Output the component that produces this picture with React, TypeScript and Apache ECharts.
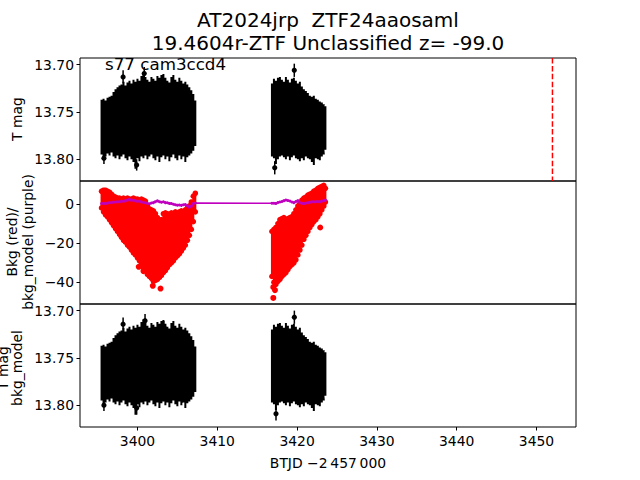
import React, { useEffect, useRef } from "react";
import * as echarts from "echarts";

// ---------- axes ----------
const xTicks = [3400, 3410, 3420, 3430, 3440, 3450];
const magTicks = [13.7, 13.75, 13.8];
const bkgTicks = [0, -20, -40];
const xRange = [3392.8, 3454.95];
const magRange = [13.693, 13.823];
const bkgRange = [-51.1, 11.75];

// ---------- texts ----------
const titleLine1 = "AT2024jrp  ZTF24aaosaml";
const titleLine2 = "19.4604r-ZTF Unclassified z= -99.0";
const sectorText = "s77 cam3ccd4";
const xLabel = "BTJD \u22122\u2009457\u2009000";

// ---------- time bins (BTJD - 2457000) ----------
const seg1Time = [
  3395.5, 3395.75, 3396, 3396.25, 3396.5, 3396.75, 3397, 3397.25, 3397.5, 3397.75,
  3398, 3398.25, 3398.5, 3398.75, 3399, 3399.25, 3399.5, 3399.75, 3400, 3400.25,
  3400.5, 3400.75, 3401, 3401.25, 3401.5, 3401.75, 3402, 3402.25, 3402.5, 3402.75,
  3403, 3403.25, 3403.5, 3403.75, 3404, 3404.25, 3404.5, 3404.75, 3405, 3405.25,
  3405.5, 3405.75, 3406, 3406.25, 3406.5, 3406.75, 3407, 3407.25,
];
const seg2Time = [
  3416.85, 3417.1, 3417.35, 3417.6, 3417.85, 3418.1, 3418.35, 3418.6, 3418.85, 3419.1,
  3419.35, 3419.6, 3419.85, 3420.1, 3420.35, 3420.6, 3420.85, 3421.1, 3421.35, 3421.6,
  3421.85, 3422.1, 3422.35, 3422.6, 3422.85, 3423.1, 3423.35, 3423.55,
];

// ---------- T mag envelope (incl. error bars): brightest / faintest per bin ----------
const seg1MagBright = [
  13.737, 13.736, 13.738, 13.735, 13.734, 13.733, 13.729, 13.726, 13.724, 13.722,
  13.721, 13.718, 13.722, 13.719, 13.717, 13.72, 13.716, 13.718, 13.715, 13.717,
  13.712, 13.709, 13.713, 13.716, 13.718, 13.713, 13.715, 13.717, 13.712, 13.714,
  13.711, 13.71, 13.714, 13.717, 13.719, 13.713, 13.711, 13.716, 13.718, 13.714,
  13.717, 13.72, 13.718, 13.721, 13.724, 13.727, 13.731, 13.738,
];
const seg1MagFaint = [
  13.795, 13.799, 13.797, 13.794, 13.796, 13.793, 13.797, 13.799, 13.796, 13.8,
  13.797, 13.795, 13.799, 13.801, 13.797, 13.8, 13.803, 13.81, 13.799, 13.802,
  13.797, 13.799, 13.796, 13.8, 13.797, 13.795, 13.799, 13.801, 13.797, 13.803,
  13.798, 13.796, 13.8, 13.797, 13.802, 13.798, 13.795, 13.799, 13.801, 13.796,
  13.8, 13.797, 13.803, 13.798, 13.796, 13.794, 13.791, 13.786,
];
const seg2MagBright = [
  13.72, 13.715, 13.717, 13.714, 13.713, 13.716, 13.718, 13.713, 13.716, 13.719,
  13.715, 13.714, 13.717, 13.72, 13.718, 13.723, 13.726, 13.728, 13.73, 13.733,
  13.734, 13.733, 13.736, 13.737, 13.739, 13.74, 13.742, 13.744,
];
const seg2MagFaint = [
  13.797, 13.799, 13.805, 13.8, 13.797, 13.796, 13.798, 13.8, 13.797, 13.801,
  13.798, 13.796, 13.799, 13.8, 13.802, 13.799, 13.801, 13.797, 13.799, 13.8,
  13.803, 13.806, 13.799, 13.8, 13.801, 13.797, 13.795, 13.79,
];

// isolated points with error bars (top panel)
const magOutTime = [3398.2, 3400.85, 3395.8, 3399.9, 3419.65, 3417.2];
const magOutValue = [13.713, 13.7095, 13.799, 13.806, 13.706, 13.809];
const magOutErr = [0.007, 0.007, 0.006, 0.006, 0.007, 0.007];

// isolated points with error bars (bottom panel, T mag - bkg_model)
const subOutTime = [3398.2, 3400.95, 3403.3, 3395.8, 3399.9, 3405.6, 3419.66, 3417.36];
const subOutValue = [13.7144, 13.7106, 13.717, 13.8, 13.803, 13.791, 13.707, 13.809];
const subOutErr = [0.007, 0.007, 0.006, 0.006, 0.007, 0.006, 0.007, 0.007];

// ---------- background (red) envelope ----------
const seg1BkgHigh = [
  6.5, 7, 7, 6.5, 6, 5, 4, 3.5, 3, 3,
  2.5, 3, 2.5, 3, 2.5, 2.5, 3, 2.5, 2.5, 2,
  2.5, 2, 1.5, -1, -2.5, -3, -3.5, -5, -7, -9.5,
  -8, -5, -4.5, -5, -5.5, -4.5, -5, -4, -5, -4,
  -3.5, -4, -3, -2, -1, 1, 4, 5.5,
];
const seg1BkgLow = [
  -2, -4, -5.5, -6.5, -8, -9.5, -11, -12.5, -14, -15.5,
  -17, -18.5, -19.5, -21, -22, -23.5, -25, -26, -27.5, -29,
  -31, -32.5, -34, -36, -37, -38, -39.5, -39, -38.5, -37.5,
  -36.5, -35, -34, -32.5, -31, -30, -29, -27.5, -26.5, -25.5,
  -24, -22.5, -21, -18.5, -16, -13, -9, -4,
];
const seg2BkgHigh = [
  -14, -13, -12, -10, -8, -7.5, -7, -8, -7.5, -7,
  -6.5, -5, -3, -1, 0.5, 2, 3, 3.5, 4.5, 5,
  5.5, 6.5, 7, 8, 8.5, 9, 9.5, 8,
];
const seg2BkgLow = [
  -37, -40, -41, -39.5, -38.5, -37, -36, -35, -33.5, -32,
  -31, -30, -28.5, -26, -23.5, -21, -18, -16, -14, -12,
  -10.5, -9, -8, -6.5, -5, -3, -1, 1,
];
const bkgOutTime = [3400.16, 3400.75, 3401.92, 3402.89, 3417.02, 3417.02, 3417.23, 3422.9];
const bkgOutValue = [-32.1, -34.3, -41.8, -43.2, -48, -42.5, -44, -12];

// ---------- bkg_model (purple) ----------
const seg1Model = [
  0.2, 0.4, 0.1, 0.5, 0.8, 0.6, 1.0, 0.9, 1.2, 1.0,
  1.5, 1.3, 1.7, 2.0, 2.4, 1.8, 2.0, 1.6, 1.3, 1.5,
  1.0, 0.8, 0.6, 0.3, 0.1, 0.5, 0.7, 1.2, 1.6, 1.2,
  0.9, 1.1, 0.7, 0.6, 0.3, 0.2, -0.1, -0.4, -0.6, -0.5,
  -0.7, -0.4, -0.3, -0.9, -1.6, -1.1, 0.2, 0.5,
];
const seg2Model = [
  0.4, 0.4, 0.3, 0.8, 1.0, 1.3, 1.7, 2.0, 1.8, 1.5,
  1.0, 0.7, 1.3, 1.7, 0.6, 0.3, 0.2, 0.5, 0.7, 0.9,
  1.2, 1.0, 1.3, 1.2, 1.1, 1.5, 1.7, 2.0,
];

// ---------- marker line ----------
const peakTime = 3452.0;

const FONT = "DejaVu Sans";
const HALF_BIN = 0.125;

const magSegments = [
  { t: seg1Time, hi: seg1MagBright, lo: seg1MagFaint },
  { t: seg2Time, hi: seg2MagBright, lo: seg2MagFaint },
];
const bkgSegments = [
  { t: seg1Time, hi: seg1BkgHigh, lo: seg1BkgLow },
  { t: seg2Time, hi: seg2BkgHigh, lo: seg2BkgLow },
];

export default function App() {
  const ref = useRef<HTMLDivElement>(null);
  useEffect(() => {
    document.body.style.margin = "0";
    if (!ref.current) return;
    const chart = echarts.init(ref.current, null, { renderer: "svg" });

    const modelData = [
      ...seg1Time.map((t, i) => [t, seg1Model[i]]),
      ...seg2Time.map((t, i) => [t, seg2Model[i]]),
    ];
    const magOut = magOutTime.map((t, i) => [t, magOutValue[i], magOutErr[i]]);
    const subOut = subOutTime.map((t, i) => [t, subOutValue[i], subOutErr[i]]);
    const bkgOut = bkgOutTime.map((t, i) => [t, bkgOutValue[i]]);

    // stepped outline polygon for one segment, built through the axes
    const stepPolygon = (api: any, seg: any) => {
      const pts: number[][] = [];
      for (let i = 0; i < seg.t.length; i++) {
        pts.push(api.coord([seg.t[i] - HALF_BIN, seg.hi[i]]));
        pts.push(api.coord([seg.t[i] + HALF_BIN, seg.hi[i]]));
      }
      for (let i = seg.t.length - 1; i >= 0; i--) {
        pts.push(api.coord([seg.t[i] + HALF_BIN, seg.lo[i]]));
        pts.push(api.coord([seg.t[i] - HALF_BIN, seg.lo[i]]));
      }
      return pts;
    };

    const blackEnvelope = (segs: any[]) => (params: any, api: any) => {
      const seg = segs[params.dataIndex];
      return {
        type: "polygon",
        shape: { points: stepPolygon(api, seg) },
        style: { fill: "#000000", stroke: null, lineWidth: 0 },
      };
    };
    const redEnvelope = (params: any, api: any) => {
      const seg = bkgSegments[params.dataIndex];
      const children: any[] = [
        {
          type: "polygon",
          shape: { points: stepPolygon(api, seg) },
          style: { fill: "#ff0000", stroke: null, lineWidth: 0 },
        },
      ];
      for (let i = 0; i < seg.t.length; i++) {
        const a = api.coord([seg.t[i], seg.hi[i]]);
        const b = api.coord([seg.t[i], seg.lo[i]]);
        children.push({ type: "circle", shape: { cx: a[0], cy: a[1], r: 2.8 }, style: { fill: "#ff0000" } });
        children.push({ type: "circle", shape: { cx: b[0], cy: b[1], r: 2.8 }, style: { fill: "#ff0000" } });
      }
      return { type: "group", children };
    };
    const errPoint = (params: any, api: any) => {
      const t = api.value(0);
      const v = api.value(1);
      const e = api.value(2);
      const c = api.coord([t, v]);
      const p1 = api.coord([t, v - e]);
      const p2 = api.coord([t, v + e]);
      return {
        type: "group",
        children: [
          {
            type: "line",
            shape: { x1: c[0], y1: p1[1], x2: c[0], y2: p2[1] },
            style: { stroke: "#000000", lineWidth: 1.5 },
          },
          { type: "circle", shape: { cx: c[0], cy: c[1], r: 2.6 }, style: { fill: "#000000" } },
        ],
      };
    };

    const gridBase = {
      left: 80,
      width: 496,
      height: 123,
      show: true,
      borderColor: "#000000",
      borderWidth: 1,
      backgroundColor: "transparent",
      containLabel: false,
    };

    const tickLine = { color: "#000000", width: 1 };
    const labelStyle = { color: "#000000", fontSize: 13.9, fontFamily: FONT };

    const xAxis = [0, 1, 2].map((g) => ({
      gridIndex: g,
      type: "value",
      min: xRange[0],
      max: xRange[1],
      axisLine: { show: false },
      splitLine: { show: false },
      splitArea: { show: false },
      axisTick: {
        show: g === 2,
        customValues: xTicks,
        length: 3.5,
        inside: false,
        lineStyle: tickLine,
      },
      axisLabel: {
        show: g === 2,
        customValues: xTicks,
        margin: 7,
        ...labelStyle,
        formatter: (v: number) => String(v),
      },
    }));

    const magAxis = (g: number) => ({
      gridIndex: g,
      type: "value",
      inverse: true,
      min: magRange[0],
      max: magRange[1],
      axisLine: { show: false },
      splitLine: { show: false },
      splitArea: { show: false },
      axisTick: { show: true, customValues: magTicks, length: 3.5, lineStyle: tickLine },
      axisLabel: {
        show: true,
        customValues: magTicks,
        margin: 6,
        ...labelStyle,
        formatter: (v: number) => v.toFixed(2),
      },
    });

    const yAxis = [
      magAxis(0),
      {
        gridIndex: 1,
        type: "value",
        min: bkgRange[0],
        max: bkgRange[1],
        axisLine: { show: false },
        splitLine: { show: false },
        splitArea: { show: false },
        axisTick: { show: true, customValues: bkgTicks, length: 3.5, lineStyle: tickLine },
        axisLabel: {
          show: true,
          customValues: bkgTicks,
          margin: 6,
          ...labelStyle,
          formatter: (v: number) => (v < 0 ? "\u2212" + Math.abs(v) : String(v)),
        },
      },
      magAxis(2),
    ];

    const txt = (text: string, x: number, y: number, size: number, align: string, rot = 0, z = 1) => ({
      type: "text",
      x,
      y,
      z,
      rotation: rot,
      style: { text, font: `${size}px '${FONT}'`, fill: "#000", textAlign: align, textVerticalAlign: "middle" },
    });

    const magSegData = magSegments.map((s) => [s.t[0], s.lo[0]]);
    const bkgSegData = bkgSegments.map((s) => [s.t[0], s.lo[0]]);

    const option: any = {
      animation: false,
      backgroundColor: "#ffffff",
      textStyle: { fontFamily: FONT },
      grid: [
        { ...gridBase, top: 58 },
        { ...gridBase, top: 181 },
        { ...gridBase, top: 304 },
      ],
      xAxis,
      yAxis,
      series: [
        {
          type: "custom",
          xAxisIndex: 0,
          yAxisIndex: 0,
          data: magSegData,
          encode: { x: 0, y: 1 },
          renderItem: blackEnvelope(magSegments),
          clip: true,
          silent: true,
        },
        {
          type: "custom",
          xAxisIndex: 0,
          yAxisIndex: 0,
          data: magOut,
          encode: { x: 0, y: 1 },
          renderItem: errPoint,
          clip: true,
          silent: true,
        },
        {
          type: "line",
          xAxisIndex: 0,
          yAxisIndex: 0,
          data: [
            [peakTime, magRange[0]],
            [peakTime, magRange[1]],
          ],
          symbol: "none",
          lineStyle: { color: "#ff0000", width: 1.5, type: [5.5, 2.4] },
          silent: true,
        },
        {
          type: "custom",
          xAxisIndex: 1,
          yAxisIndex: 1,
          data: bkgSegData,
          encode: { x: 0, y: 1 },
          renderItem: redEnvelope,
          clip: true,
          silent: true,
        },
        {
          type: "scatter",
          xAxisIndex: 1,
          yAxisIndex: 1,
          data: bkgOut,
          symbol: "circle",
          symbolSize: 6,
          itemStyle: { color: "#ff0000", opacity: 1 },
          silent: true,
        },
        {
          type: "line",
          xAxisIndex: 1,
          yAxisIndex: 1,
          data: modelData,
          symbol: "circle",
          symbolSize: 3,
          showAllSymbol: true,
          itemStyle: { color: "#bf00bf" },
          lineStyle: { color: "#bf00bf", width: 1.5 },
          silent: true,
        },
        {
          type: "custom",
          xAxisIndex: 2,
          yAxisIndex: 2,
          data: magSegData,
          encode: { x: 0, y: 1 },
          renderItem: blackEnvelope(magSegments),
          clip: true,
          silent: true,
        },
        {
          type: "custom",
          xAxisIndex: 2,
          yAxisIndex: 2,
          data: subOut,
          encode: { x: 0, y: 1 },
          renderItem: errPoint,
          clip: true,
          silent: true,
        },
      ],
      graphic: [
        txt(titleLine1, 328, 19.5, 20, "center"),
        txt(titleLine2, 328, 43, 20, "center"),
        txt(sectorText, 105, 64, 16.7, "left", 0, 10),
        txt("T mag", 17, 119, 13.9, "center", Math.PI / 2),
        txt("Bkg (red)/", 12, 242, 13.9, "center", Math.PI / 2),
        txt("bkg_model (purple)", 28, 242, 13.9, "center", Math.PI / 2),
        txt("T mag", 3, 368, 13.9, "center", Math.PI / 2),
        txt("bkg_model", 17, 368, 13.9, "center", Math.PI / 2),
        txt(xLabel, 328, 463, 13.9, "center"),
      ],
    };

    chart.setOption(option);
    return () => chart.dispose();
  }, []);

  return <div ref={ref} style={{ width: 640, height: 480 }} />;
}
